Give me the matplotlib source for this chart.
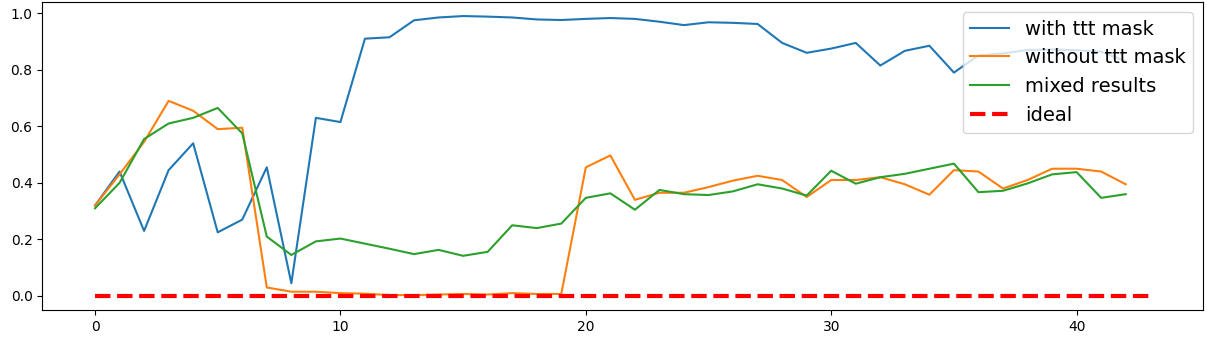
import numpy as np
import matplotlib
matplotlib.use("Agg")
import matplotlib.pyplot as plt

with_mask = [0.32, 0.44, 0.23, 0.445, 0.54, 0.225, 0.27, 0.455, 0.045, 0.63,
             0.615, 0.91, 0.915, 0.975, 0.985, 0.99, 0.988, 0.985, 0.978, 0.976,
             0.98, 0.983, 0.98, 0.97, 0.958, 0.968, 0.966, 0.962, 0.895, 0.86,
             0.875, 0.895, 0.815, 0.867, 0.885, 0.79, 0.851, 0.858, 0.87, 0.872,
             0.869, 0.864, 0.83]
without_mask = [0.32, 0.43, 0.545, 0.69, 0.655, 0.59, 0.595, 0.03, 0.015, 0.015,
                0.01, 0.008, 0.003, 0.003, 0.005, 0.007, 0.005, 0.01, 0.007, 0.007,
                0.455, 0.497, 0.34, 0.365, 0.365, 0.385, 0.408, 0.425, 0.41, 0.35,
                0.41, 0.41, 0.42, 0.395, 0.358, 0.445, 0.44, 0.38, 0.41, 0.45,
                0.45, 0.44, 0.395]
mixed = [0.31, 0.40, 0.555, 0.61, 0.63, 0.665, 0.575, 0.21, 0.145, 0.193,
         0.203, 0.185, 0.167, 0.148, 0.163, 0.142, 0.156, 0.25, 0.24, 0.256,
         0.347, 0.363, 0.305, 0.375, 0.36, 0.357, 0.37, 0.395, 0.38, 0.355,
         0.443, 0.397, 0.42, 0.432, 0.45, 0.468, 0.367, 0.372, 0.398, 0.43,
         0.438, 0.347, 0.36]
ideal = [0.0] * 44

fig = plt.figure(figsize=(12.07, 3.44), dpi=100)
plt.plot(np.arange(len(with_mask)), with_mask, label="with ttt mask")
plt.plot(np.arange(len(without_mask)), without_mask, label="without ttt mask")
plt.plot(np.arange(len(mixed)), mixed, label="mixed results")
plt.plot(np.arange(len(ideal)), ideal, "r--", linewidth=3, label="ideal")
plt.legend(loc="upper right", fontsize=14)
plt.subplots_adjust(left=0.035, right=0.9967, top=0.994, bottom=0.099)
plt.savefig("out.png", dpi=100)
